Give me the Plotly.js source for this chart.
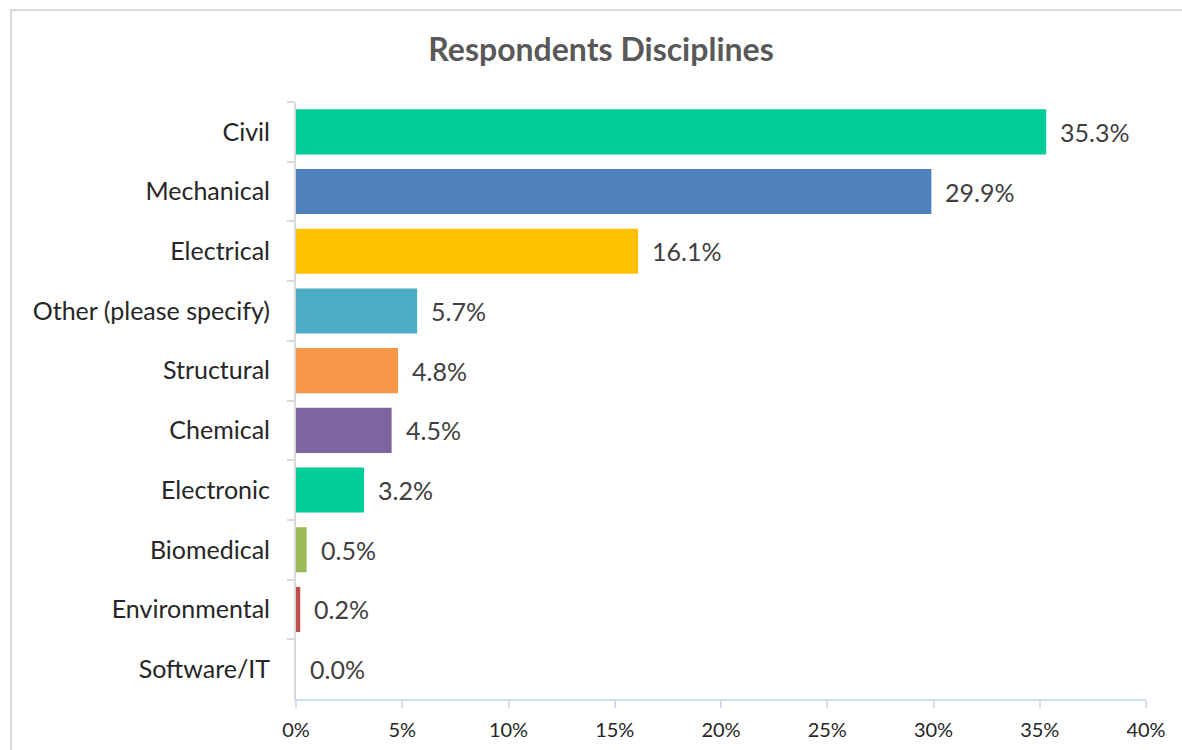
<!DOCTYPE html>
<html>
<head>
<meta charset="utf-8">
<script src="https://cdn.plot.ly/plotly-3.0.1.min.js"></script>
<style>
  html, body { margin: 0; padding: 0; overflow: hidden; background: #fff; }
  #frame { position: absolute; left: 10px; top: 9px; width: 1300px; height: 900px;
           border-left: 2px solid #d9d9d9; border-top: 2px solid #d9d9d9; }
  #chart { position: absolute; left: 0; top: 0; width: 1182px; height: 750px; }
</style>
</head>
<body>
<div id="frame"></div>
<div id="chart"></div>
<script>
const categories = ["Civil", "Mechanical", "Electrical", "Other (please specify)", "Structural",
                    "Chemical", "Electronic", "Biomedical", "Environmental", "Software/IT"];
const values = [0.353, 0.299, 0.161, 0.057, 0.048, 0.045, 0.032, 0.005, 0.002, 0.0];
const barColors = ["#00CC99", "#4F81BD", "#FFC000", "#4BACC6", "#F79646",
                   "#8064A2", "#00CC99", "#9BBB59", "#C0504D", "#7F7F7F"];
const titleText = "Respondents Disciplines";
const xTickVals = [0, 0.05, 0.10, 0.15, 0.20, 0.25, 0.30, 0.35, 0.40];

const FONT = "Lato, 'Open Sans', sans-serif";

const trace = {
  type: "bar",
  orientation: "h",
  y: categories,
  x: values,
  marker: { color: barColors, line: { width: 0 } },
  width: 0.755,
  hoverinfo: "skip"
};

const annotations = categories.map((c, i) => ({
  x: values[i], y: c, xref: "x", yref: "y",
  text: (values[i] * 100).toFixed(1) + "%",
  showarrow: false, xanchor: "left", yanchor: "middle", xshift: 12,
  font: { family: FONT, size: 25, color: "#404040" }
}));

const layout = {
  width: 1182, height: 750,
  paper_bgcolor: "rgba(0,0,0,0)", plot_bgcolor: "rgba(0,0,0,0)",
  margin: { l: 296, r: 36, t: 102, b: 51, pad: 0 },
  title: { text: "<b>" + titleText + "</b>", x: 0.5085, xanchor: "center", y: 0.933, yanchor: "middle",
           font: { family: FONT, size: 32, color: "#595959" } },
  showlegend: false,
  xaxis: {
    range: [0, 0.4], tickvals: xTickVals, tickformat: ".0%",
    showgrid: false, zeroline: false,
    showline: true, linecolor: "#D0DEEF", linewidth: 2,
    ticks: "outside", ticklen: 7, tickcolor: "#D0DEEF", tickwidth: 2,
    ticklabelstandoff: 5,
    tickfont: { family: FONT, size: 20, color: "#262626" }, fixedrange: true
  },
  yaxis: {
    type: "category", autorange: "reversed",
    showgrid: false, zeroline: false,
    showline: true, linecolor: "#D9D9D9", linewidth: 2,
    ticks: "outside", ticklen: 7, tickcolor: "#D9D9D9", tickwidth: 2,
    tickson: "boundaries", ticklabelstandoff: 19,
    tickfont: { family: FONT, size: 25, color: "#262626" }, fixedrange: true
  },
  annotations: annotations
};

Plotly.newPlot("chart", [trace], layout, { displayModeBar: false, staticPlot: true });
</script>
</body>
</html>
